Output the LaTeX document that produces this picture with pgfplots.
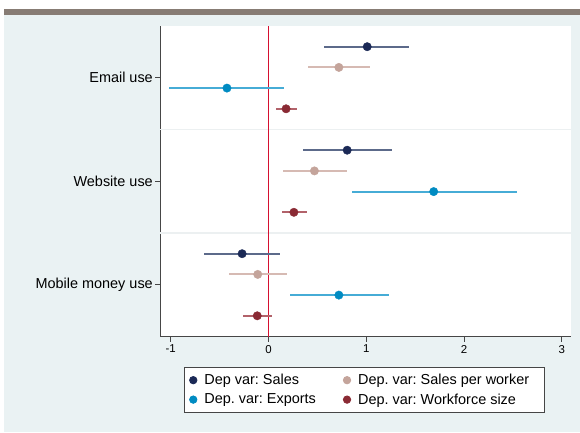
\documentclass[border=0pt]{standalone}
\usepackage{fontspec}
\setmainfont{Liberation Sans}
\usepackage{pgfplots}
\usepackage{pgfplotstable}
\pgfplotsset{compat=1.18}
\frenchspacing

\definecolor{bgblue}{RGB}{234,242,243}
\definecolor{topbar}{RGB}{135,124,116}
\definecolor{axisgray}{RGB}{70,70,70}
\definecolor{sepgray}{RGB}{236,240,241}
\definecolor{refred}{RGB}{214,16,48}
\definecolor{navyd}{RGB}{27,41,86}
\definecolor{navyl}{RGB}{92,106,138}
\definecolor{rosed}{RGB}{196,164,155}
\definecolor{rosel}{RGB}{214,186,179}
\definecolor{blued}{RGB}{0,139,194}
\definecolor{bluel}{RGB}{70,172,214}
\definecolor{maroond}{RGB}{138,42,52}
\definecolor{maroonl}{RGB}{178,98,106}

% y = category position (3 Email, 2 Website, 1 Mobile) plus offset
\pgfplotstableread{
y    est    lo     hi
3.3  1.01   0.57   1.44
2.3  0.805  0.35   1.26
1.3  -0.27  -0.66  0.12
}\salestab
\pgfplotstableread{
y    est    lo     hi
3.1  0.72   0.40   1.04
2.1  0.47   0.15   0.805
1.1  -0.11  -0.40  0.19
}\spwtab
\pgfplotstableread{
y    est    lo     hi
2.9  -0.425 -1.015 0.16
1.9  1.69   0.85   2.54
0.9  0.72   0.22   1.23
}\exptab
\pgfplotstableread{
y    est    lo     hi
2.7  0.18   0.075  0.29
1.7  0.26   0.135  0.39
0.7  -0.115 -0.26  0.035
}\wftab

\begin{document}
\begin{tikzpicture}[x=1bp,y=1bp]
\useasboundingbox (0,0) rectangle (580,432);
\fill[bgblue] (4,0) rectangle (580,417.3);
\fill[topbar] (4,417.3) rectangle (580,422.7);
\begin{axis}[
  at={(160bp,95.5bp)}, anchor=south west,
  scale only axis, width=411bp, height=310.5bp,
  xmin=-1.11, xmax=3.095, ymin=0.5, ymax=3.5,
  axis lines=left,
  axis line style={-, draw=axisgray, line width=0.9bp},
  axis background/.style={fill=white},
  tick align=outside, major tick length=5bp,
  tick style={draw=axisgray, line width=0.8bp},
  xtick={-1,0,1,2,3},
  ytick={1,2,3},
  yticklabels={Mobile money use, Website use, Email use},
  yticklabel style={font=\fontsize{14.5}{17}\selectfont, inner sep=2bp},
  xticklabel style={font=\fontsize{11.5}{13}\selectfont},
  /pgf/number format/assume math mode=true,
  extra y ticks={1.5,2.5},
  extra y tick labels={},
  extra y tick style={grid=major, major grid style={draw=sepgray, line width=1.2bp}, major tick length=0pt},
  error bars/error mark=none,
  legend columns=2,
  legend cell align=left,
  legend style={
    at={(0.059,-0.0992)}, anchor=north west,
    draw=axisgray, line width=0.8bp, fill=white,
    font=\fontsize{14.5}{17}\selectfont,
    inner sep=4.5bp, row sep=3.5bp,
    /tikz/every odd column/.append style={column sep=5bp},
    /tikz/every even column/.append style={column sep=25bp}
  },
]
\addplot[refred, line width=1bp, forget plot] coordinates {(0,0.5) (0,3.5)};

\addplot[only marks, mark=*, mark size=4.2bp, color=navyd,
  mark options={draw=none, fill=navyd},
  error bars/.cd, x dir=both, x explicit,
  error bar style={draw=navyl, line width=2bp},
  /pgfplots/legend image code/.code={\fill[navyd] (0bp,0bp) circle (3.7bp);}]
  table[x=est, y=y,
    x error plus expr=\thisrow{hi}-\thisrow{est},
    x error minus expr=\thisrow{est}-\thisrow{lo}] {\salestab};

\addplot[only marks, mark=*, mark size=4.2bp, color=rosed,
  mark options={draw=none, fill=rosed},
  error bars/.cd, x dir=both, x explicit,
  error bar style={draw=rosel, line width=2bp},
  /pgfplots/legend image code/.code={\fill[rosed] (0bp,0bp) circle (3.7bp);}]
  table[x=est, y=y,
    x error plus expr=\thisrow{hi}-\thisrow{est},
    x error minus expr=\thisrow{est}-\thisrow{lo}] {\spwtab};

\addplot[only marks, mark=*, mark size=4.2bp, color=blued,
  mark options={draw=none, fill=blued},
  error bars/.cd, x dir=both, x explicit,
  error bar style={draw=bluel, line width=2bp},
  /pgfplots/legend image code/.code={\fill[blued] (0bp,0bp) circle (3.7bp);}]
  table[x=est, y=y,
    x error plus expr=\thisrow{hi}-\thisrow{est},
    x error minus expr=\thisrow{est}-\thisrow{lo}] {\exptab};

\addplot[only marks, mark=*, mark size=4.2bp, color=maroond,
  mark options={draw=none, fill=maroond},
  error bars/.cd, x dir=both, x explicit,
  error bar style={draw=maroonl, line width=2bp},
  /pgfplots/legend image code/.code={\fill[maroond] (0bp,0bp) circle (3.7bp);}]
  table[x=est, y=y,
    x error plus expr=\thisrow{hi}-\thisrow{est},
    x error minus expr=\thisrow{est}-\thisrow{lo}] {\wftab};

\legend{Dep var: Sales, Dep. var: Sales per worker\hspace*{9bp}, Dep. var: Exports, Dep. var: Workforce size}
\end{axis}
\end{tikzpicture}
\end{document}
